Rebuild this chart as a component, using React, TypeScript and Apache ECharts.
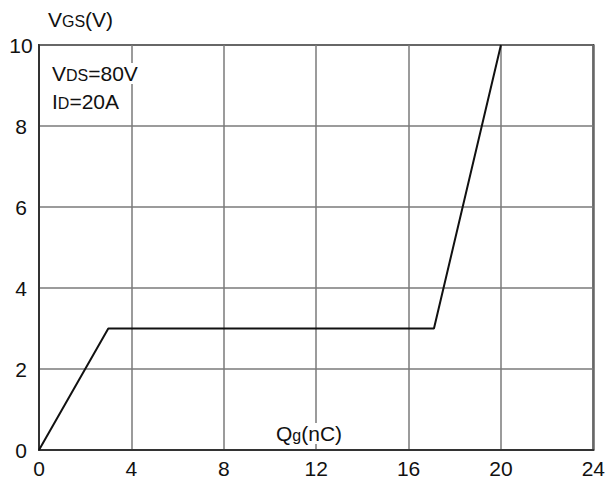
import React, { useEffect, useRef } from "react";
import * as echarts from "echarts";

const xTicks = [0, 4, 8, 12, 16, 20, 24];
const yTicks = [0, 2, 4, 6, 8, 10];
const qg = [0, 3, 17.1, 20];
const vgs = [0, 3, 3, 10];

export default function App() {
  const ref = useRef<HTMLDivElement>(null);
  useEffect(() => {
    document.body.style.margin = "0";
    const chart = echarts.init(ref.current!, null, { renderer: "svg" });
    const font = "Liberation Sans, Arial, sans-serif";
    const sub = { fontSize: 16, fontFamily: font, fill: "#111", padding: [4, 0, 0, 0] };
    chart.setOption({
      animation: false,
      backgroundColor: "#ffffff",
      grid: {
        left: 39,
        top: 45,
        right: 12,
        bottom: 32,
        show: true,
        borderColor: "#333",
        borderWidth: 2,
      },
      xAxis: {
        type: "value",
        min: xTicks[0],
        max: xTicks[xTicks.length - 1],
        interval: 4,
        axisLine: { lineStyle: { color: "#333", width: 2 } },
        axisTick: { show: false },
        splitLine: { lineStyle: { color: "#7a7a7a", width: 1.5 } },
        axisLabel: { color: "#111", fontSize: 21, fontFamily: font, margin: 8 },
      },
      yAxis: {
        type: "value",
        min: yTicks[0],
        max: yTicks[yTicks.length - 1],
        interval: 2,
        axisLine: { lineStyle: { color: "#333", width: 2 } },
        axisTick: { show: false },
        splitLine: { lineStyle: { color: "#7a7a7a", width: 1.5 } },
        axisLabel: { color: "#111", fontSize: 21, fontFamily: font, align: "center", margin: 18 },
      },
      series: [
        {
          type: "line",
          data: qg.map((x, i) => [x, vgs[i]]),
          symbol: "none",
          lineStyle: { color: "#111", width: 2 },
          z: 3,
        },
      ],
      graphic: [
        {
          type: "text",
          left: 48,
          top: 9,
          z: 10,
          style: {
            text: "V{s|GS}(V)",
            fill: "#111",
            font: `21px ${font}`,
            rich: { s: sub },
          },
        },
        {
          type: "text",
          left: 50,
          top: 63,
          z: 10,
          style: {
            text: "V{s|DS}=80V",
            fill: "#111",
            font: `21px ${font}`,
            backgroundColor: "#fff",
            padding: [0, 2, 0, 2],
            rich: { s: sub },
          },
        },
        {
          type: "text",
          left: 50,
          top: 91,
          z: 10,
          style: {
            text: "I{s|D}=20A",
            fill: "#111",
            font: `21px ${font}`,
            backgroundColor: "#fff",
            padding: [0, 2, 0, 2],
            rich: { s: sub },
          },
        },
        {
          type: "text",
          left: 274,
          top: 423,
          z: 10,
          style: {
            text: "Q{s|g}(nC)",
            fill: "#111",
            font: `21px ${font}`,
            backgroundColor: "#fff",
            padding: [0, 2, 0, 2],
            rich: { s: sub },
          },
        },
      ],
    });
    return () => chart.dispose();
  }, []);
  return <div ref={ref} style={{ width: 608, height: 482 }} />;
}
